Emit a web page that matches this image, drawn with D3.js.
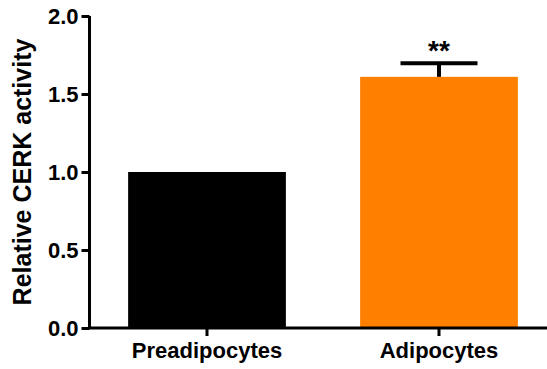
<!DOCTYPE html>
<html lang="en">
<head>
<meta charset="UTF-8">
<script src="https://cdnjs.cloudflare.com/ajax/libs/d3/7.8.5/d3.min.js"></script>
<style>
  body { margin: 0; background: #fff; }
  svg text { font-family: "Liberation Sans", Arial, sans-serif; font-weight: bold; fill: #000; }
</style>
</head>
<body>
<div id="chart"></div>
<script>
// data
let groups = ["Preadipocytes", "Adipocytes"];
let values = [1.0, 1.61];
let errors = [0, 0.087];
let stars = ["", "**"];
let colors = ["#000000", "#ff8000"];
let yTicks = [0, 0.5, 1.0, 1.5, 2.0];

let width = 547, height = 369;

let svg = d3.select("#chart").append("svg")
  .attr("width", width)
  .attr("height", height);

// scales
let y = d3.scaleLinear().domain([0, 2]).range([328, 16]);
let x = d3.scaleBand().domain(groups).range([91, 555])
  .paddingInner(0.32).paddingOuter(0.16);

// bars
svg.selectAll("rect.bar")
  .data(groups)
  .enter()
  .append("rect")
  .attr("class", "bar")
  .attr("x", d => x(d))
  .attr("y", (d, i) => y(values[i]))
  .attr("width", x.bandwidth())
  .attr("height", (d, i) => y(0) - y(values[i]))
  .attr("fill", (d, i) => colors[i]);

// error bars (upper only)
groups.forEach(function (g, i) {
  if (!errors[i]) return;
  let cx = x(g) + x.bandwidth() / 2;
  let top = y(values[i] + errors[i]);
  svg.append("line")
    .attr("x1", cx).attr("x2", cx)
    .attr("y1", y(values[i])).attr("y2", top)
    .attr("stroke", "#000").attr("stroke-width", 4);
  svg.append("line")
    .attr("x1", cx - 38.5).attr("x2", cx + 38.5)
    .attr("y1", top).attr("y2", top)
    .attr("stroke", "#000").attr("stroke-width", 4);
  svg.append("text")
    .attr("x", cx)
    .attr("y", top - 3)
    .attr("text-anchor", "middle")
    .attr("font-size", "28px")
    .text(stars[i]);
});

// y axis
let yAxis = svg.append("g")
  .attr("transform", "translate(89.5,0)")
  .call(d3.axisLeft(y).tickValues(yTicks).tickFormat(d3.format(".1f")).tickSize(8).tickPadding(3));
yAxis.select(".domain").attr("stroke-width", 3).attr("d", "M0," + y(2) + "V" + y(0));
yAxis.selectAll(".tick line").attr("stroke-width", 3);
yAxis.selectAll(".tick text").attr("font-size", "22px").attr("dy", "0.36em");

// x axis
let xAxis = svg.append("g")
  .attr("transform", "translate(0," + y(0) + ")")
  .call(d3.axisBottom(x).tickSize(8).tickPadding(6));
xAxis.select(".domain").attr("stroke-width", 3).attr("d", "M88," + 0 + "H" + width);
xAxis.selectAll(".tick line").attr("stroke-width", 3);
xAxis.selectAll(".tick text").attr("font-size", "22px");

// y axis title
svg.append("text")
  .attr("transform", "translate(31,172) rotate(-90)")
  .attr("text-anchor", "middle")
  .attr("font-size", "25px")
  .text("Relative CERK activity");
</script>
</body>
</html>
